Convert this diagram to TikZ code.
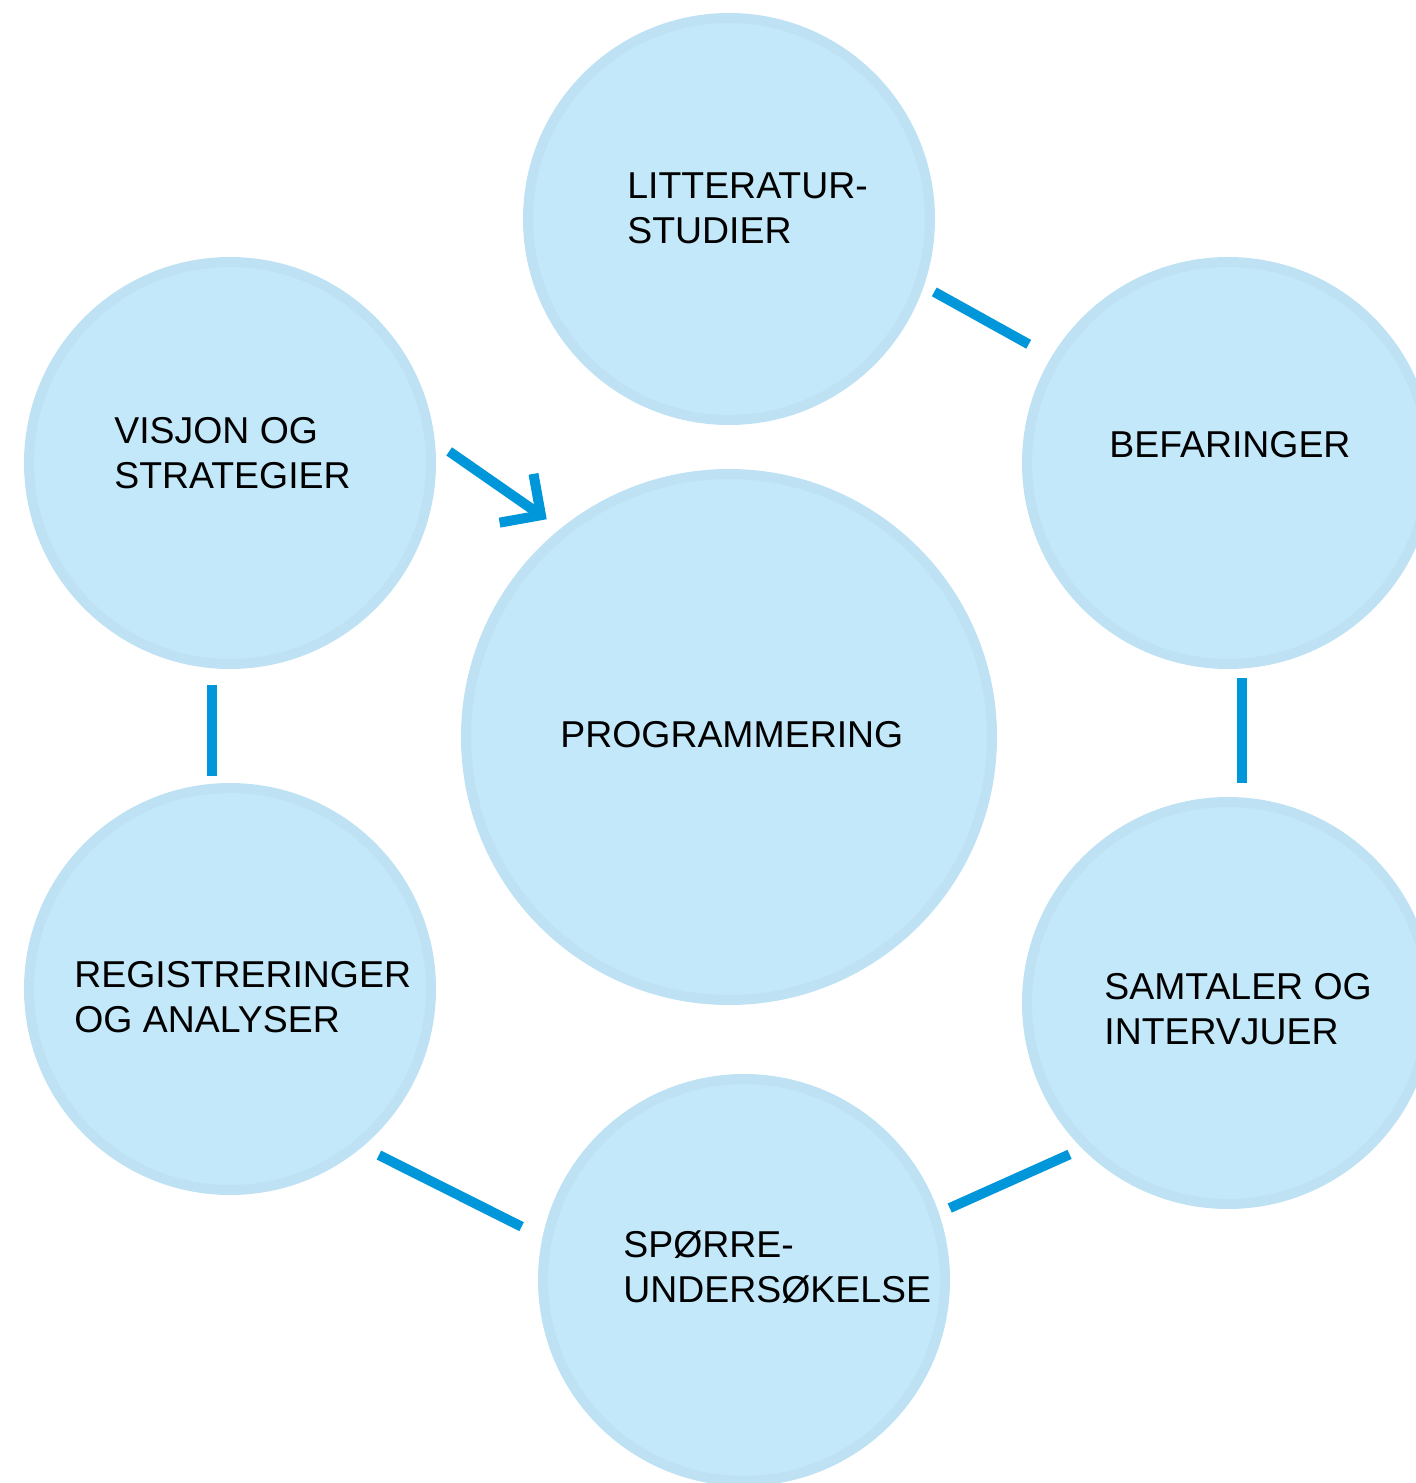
\documentclass[tikz,border=0pt]{standalone}
\usepackage{fontspec}
\setmainfont{Liberation Sans}
\usetikzlibrary{arrows.meta}
\definecolor{bubblefill}{RGB}{194,232,249}
\definecolor{bubbleedge}{RGB}{190,226,244}
\definecolor{linkblue}{RGB}{0,150,218}

\begin{document}
\begin{tikzpicture}[x=0.5pt,y=-0.5pt,
  bubble/.style={circle,fill=bubblefill,draw=bubbleedge,line width=5pt,minimum size=201pt,inner sep=0pt},
  caption/.style={anchor=base west,align=left,inner sep=0pt,font=\fontsize{18.7pt}{22.5pt}\selectfont},
  link/.style={draw=linkblue,line width=5pt}]
\useasboundingbox (0,0) rectangle (1415,1483);
\node[bubble](litt) at (729,219){};
\node[bubble](bef) at (1228,463){};
\node[bubble](vis) at (230,463){};
\node[bubble,minimum size=263pt](prog) at (729,737){};
\node[bubble](reg) at (230,989){};
\node[bubble](sam) at (1228,1003){};
\node[bubble](spor) at (744,1280){};
% the base of a two-line caption is its last line
\node[caption](tlitt) at (627,243){LITTERATUR-\\STUDIER};
\node[caption](tvis) at (114,488){VISJON OG\\STRATEGIER};
\node[caption](tbef) at (1109,457){BEFARINGER};
\node[caption](tprog) at (560,747){PROGRAMMERING};
\node[caption](treg) at (74,1032){REGISTRERINGER\\OG ANALYSER};
\node[caption](tsam) at (1104,1044){SAMTALER OG\\INTERVJUER};
\node[caption](tspor) at (623,1302){SPØRRE-\\UNDERSØKELSE};
\path[link,shorten <=6pt,shorten >=13pt](litt.-19)--(bef.149);
\path[link,shorten <=4.8pt,shorten >=7.2pt](bef.-86)--(sam.86);
\path[link,shorten <=7pt,shorten >=6pt](sam.225)--(spor.19);
\path[link,shorten <=11.7pt,shorten >=9.2pt](spor.168)--(reg.-50);
\path[link,shorten <=3.9pt,shorten >=8.4pt](reg.95)--(vis.-95);
\path[link,-{Straight Barb[angle=90:21pt]},shorten <=8.7pt,shorten >=8.3pt](vis.6)--(prog.129);
\end{tikzpicture}
\end{document}
